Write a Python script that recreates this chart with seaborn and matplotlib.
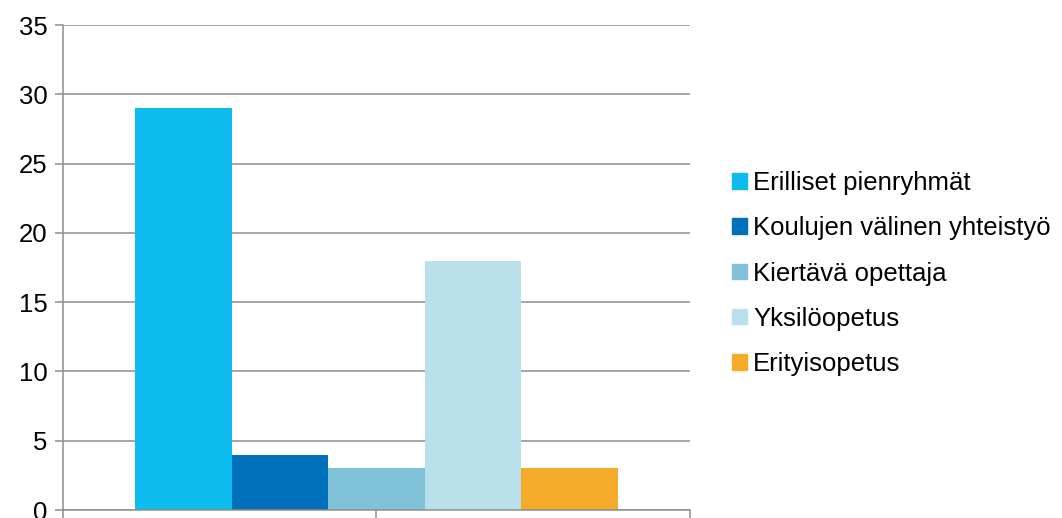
import matplotlib
matplotlib.use("Agg")
import matplotlib.pyplot as plt
import seaborn as sns
import pandas as pd

series = ["Erilliset pienryhmät", "Koulujen välinen yhteistyö", "Kiertävä opettaja",
          "Yksilöopetus", "Erityisopetus"]
values = [29, 4, 3, 18, 3]
colors = ["#0DBBEE", "#0070BA", "#80C3D9", "#B9E0EA", "#F5AB2A"]
yticks = [0, 5, 10, 15, 20, 25, 30, 35]

sns.set_theme(style="white")
plt.rcParams["font.family"] = ["Liberation Sans", "DejaVu Sans"]
plt.rcParams["text.color"] = "#000000"

df = pd.DataFrame({"group": [""] * len(series), "series": series, "value": values})

fig = plt.figure(figsize=(10.62, 5.18), dpi=100)
ax = fig.add_axes([0.0593, 0.0154, 0.5904, 0.9363])

sns.barplot(data=df, x="group", y="value", hue="series", hue_order=series,
            palette=colors, width=0.77, saturation=1, ax=ax, legend=False,
            linewidth=0, edgecolor="none")

grid_c = "#8E8E8E"
ax.set_xlim(-0.5, 0.5)
ax.set_ylim(0, 35)
ax.set_yticks(yticks)
ax.set_yticklabels([str(v) for v in yticks])
ax.set_xticks([-0.5, 0, 0.5])
ax.set_xticklabels([])
ax.set_xlabel("")
ax.set_ylabel("")
ax.yaxis.grid(True, color=grid_c, linewidth=1.1)
ax.set_axisbelow(True)
for s in ["top", "right"]:
    ax.spines[s].set_visible(False)
for s in ["left", "bottom"]:
    ax.spines[s].set_color(grid_c)
    ax.spines[s].set_linewidth(1.1)
ax.tick_params(axis="y", which="both", direction="out", length=6, width=1.1,
               color=grid_c, labelsize=18.5, pad=5, left=True, labelcolor="#000000")
ax.tick_params(axis="x", which="both", direction="out", length=6, width=1.1,
               color=grid_c, bottom=True)

handles = [plt.Rectangle((0, 0), 1, 1, color=c) for c in colors]
leg = fig.legend(handles, series, loc="center left", bbox_to_anchor=(0.680, 0.472),
                 frameon=False, fontsize=18.5, handlelength=0.55, handleheight=0.55,
                 handletextpad=0.25, labelspacing=0.83, borderaxespad=0)
for t in leg.get_texts():
    t.set_color("#000000")

fig.savefig("out.png", dpi=100)
